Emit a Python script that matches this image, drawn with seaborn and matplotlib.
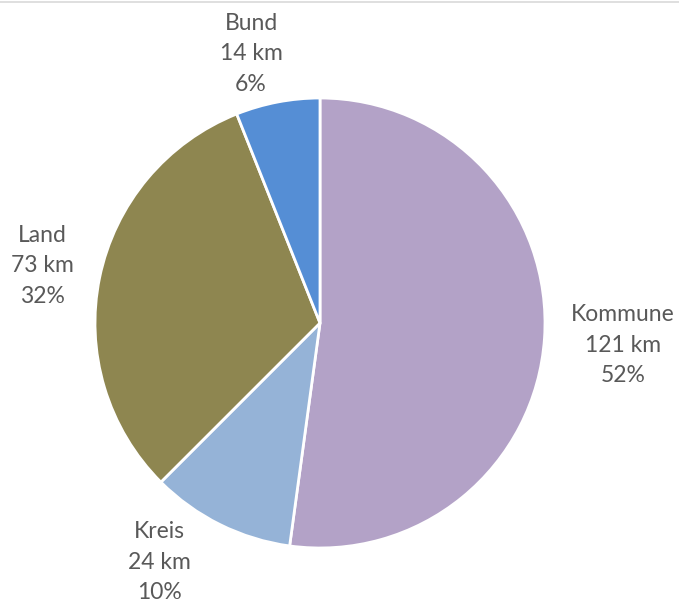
import numpy as np
import matplotlib
matplotlib.use("Agg")
import matplotlib.pyplot as plt
import seaborn as sns
from matplotlib.lines import Line2D

categories = ["Kommune", "Kreis", "Land", "Bund"]
km_values = [121, 24, 73, 14]
pct_labels = ["52%", "10%", "32%", "6%"]
colors = ["#B3A2C7", "#95B3D7", "#8E8650", "#558ED5"]

sns.set_theme(style="white")
plt.rcParams["font.family"] = ["Lato", "DejaVu Sans"]

W, H = 679, 605
fig = plt.figure(figsize=(W / 100, H / 100), dpi=100)
ax = fig.add_axes([0, 0, 1, 1])
ax.set_xlim(0, W)
ax.set_ylim(0, H)
ax.set_aspect("equal")
ax.axis("off")

cx, cy, R = 320, H - 323, 225
wedges, _ = ax.pie(km_values, colors=sns.color_palette(colors), startangle=90,
                   counterclock=False, radius=R, center=(cx, cy),
                   wedgeprops=dict(edgecolor="white", linewidth=2))
ax.set_xlim(0, W)
ax.set_ylim(0, H)

# label placement: distance factor and angle tweak per wedge (best-fit style)
dist = [1.35, 1.28, 1.26, 1.235]
dang = [-0.3, -7.5, 0.0, 3.5]
for w, cat, v, p, d, da in zip(wedges, categories, km_values, pct_labels, dist, dang):
    ang = np.deg2rad((w.theta1 + w.theta2) / 2 + da)
    x = cx + d * R * np.cos(ang)
    y = cy + d * R * np.sin(ang)
    ax.text(x, y, f"{cat}\n{v} km\n{p}", ha="center", va="center",
            fontsize=16.5, color="#595959", linespacing=1.55)

fig.add_artist(Line2D([0, 1], [1 - 1.5 / H, 1 - 1.5 / H], transform=fig.transFigure,
                      color="#D9D9D9", linewidth=1.2))

fig.savefig("out.png", dpi=100, facecolor="white")
